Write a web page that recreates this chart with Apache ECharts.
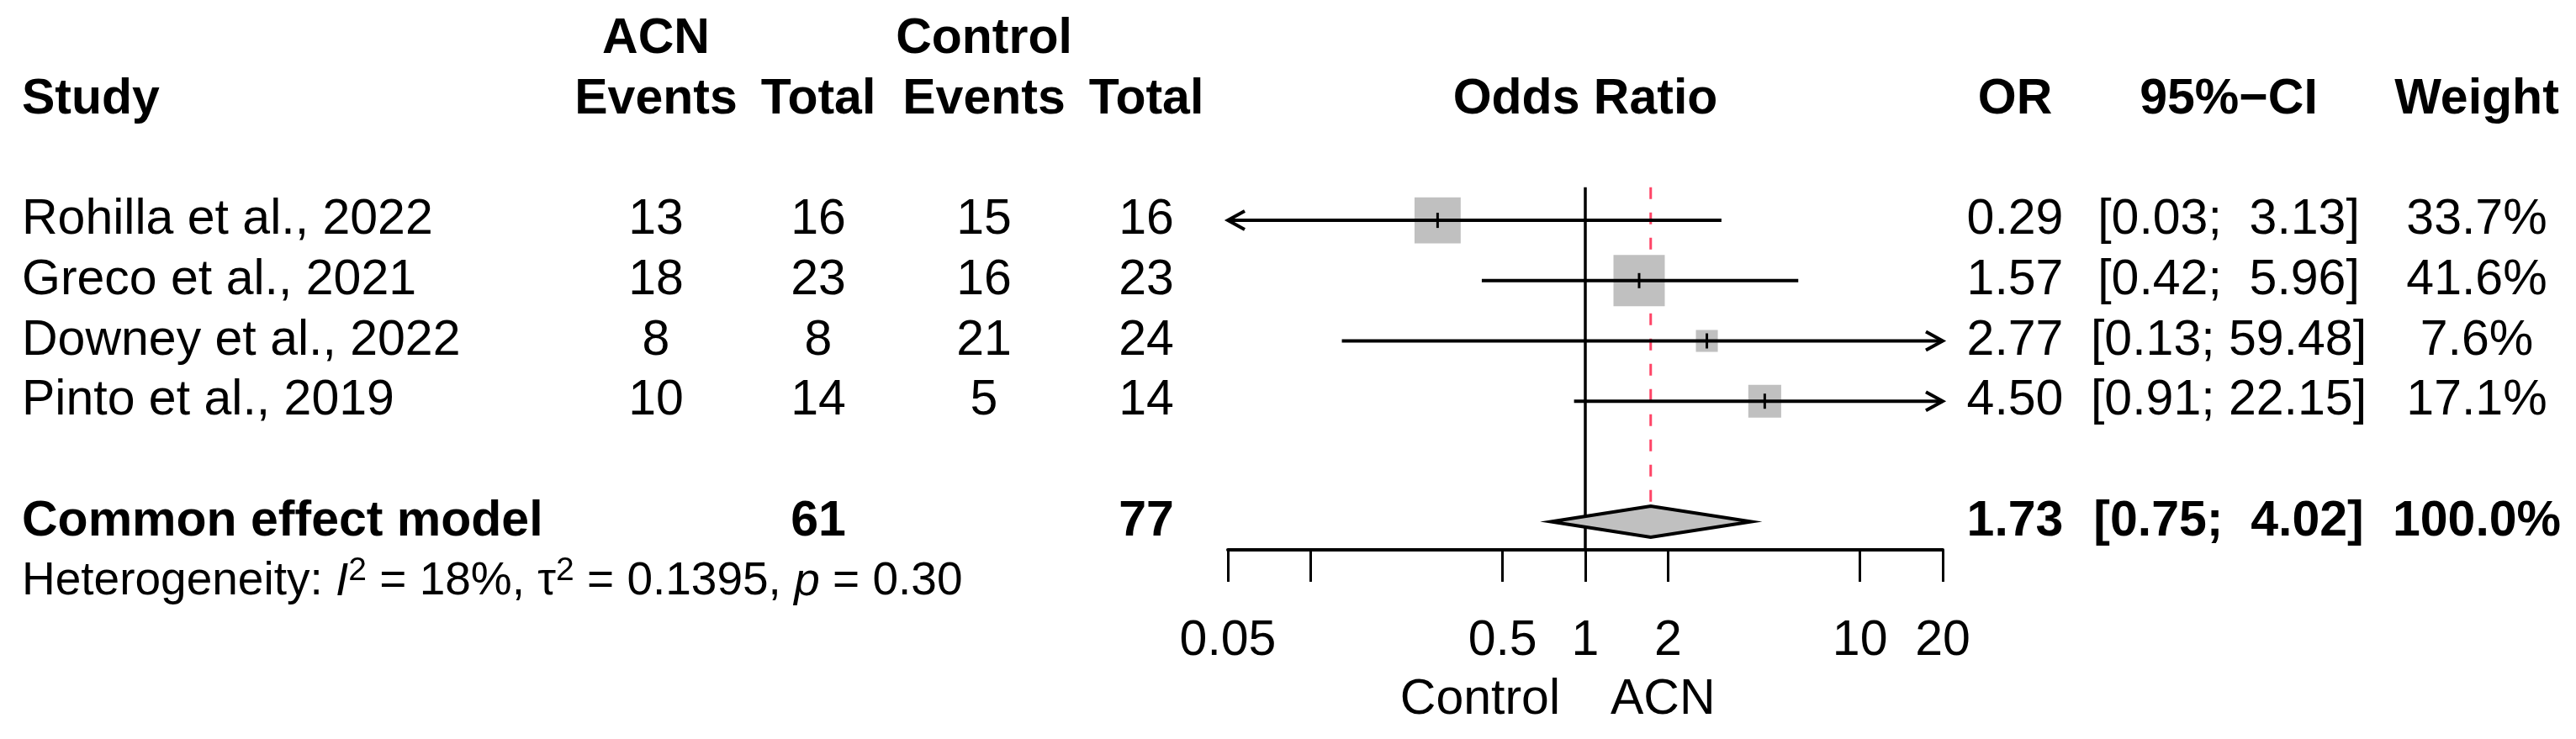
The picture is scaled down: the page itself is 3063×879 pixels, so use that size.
<!DOCTYPE html>
<html>
<head>
<meta charset="utf-8">
<script src="https://cdn.jsdelivr.net/npm/echarts@6/dist/echarts.min.js"></script>
<style>
html,body{margin:0;padding:0;background:#ffffff;}
#chart{width:3063px;height:879px;}
</style>
</head>
<body>
<div id="chart"></div>
<script>
// ---------------- data ----------------
const studies    = ['Rohilla et al., 2022', 'Greco et al., 2021', 'Downey et al., 2022', 'Pinto et al., 2019'];
const acnEvents  = [13, 18, 8, 10];
const acnTotal   = [16, 23, 8, 14];
const ctrlEvents = [15, 16, 21, 5];
const ctrlTotal  = [16, 23, 24, 14];
const oddsRatio  = [0.29, 1.57, 2.77, 4.50];
const ciLower    = [0.03, 0.42, 0.13, 0.91];
const ciUpper    = [3.13, 5.96, 59.48, 22.15];
const weights    = [33.7, 41.6, 7.6, 17.1];

const pooledLabel = 'Common effect model';
const pooledAcnTotal = 61;
const pooledCtrlTotal = 77;
const pooledOR = 1.73;
const pooledLower = 0.75;
const pooledUpper = 4.02;
const pooledWeight = 100.0;

const hetI2 = 18;
const hetTau2 = 0.1395;
const hetP = 0.30;

const axisTickValues  = [0.05, 0.1, 0.5, 1, 2, 10, 20];
const axisLabelValues = [0.05, 0.5, 1, 2, 10, 20];
const favoursLeft = 'Control';
const favoursRight = 'ACN';

// ---------------- layout ----------------
const FONT = '"Liberation Sans", Arial, Helvetica, sans-serif';
const FS = 59;
const FS_HET = 55;
const FS_SUP = 39;
const TOP = 47;
const ROW_H = 71.7;
const AXIS_Y = 654;
const Y_MAX = (AXIS_Y - TOP) / ROW_H;
const AXIS_MIN = 0.05, AXIS_MAX = 20;
const FOREST_LEFT = 1460, FOREST_WIDTH = 850;
const SQUARE_K = 61 / Math.sqrt(41.6);
const DIAMOND_HALF = 18.5;
const LINE_TOP_ROW = 2.45;

const COL = { study: 26, acnEv: 780, acnTot: 973, ctrlEv: 1170, ctrlTot: 1363, or: 2396, ci: 2650, w: 2945 };
const ROW = { head1: 0, head2: 1, first: 3, pooled: 8, het: 9, favours: 10.96 };

function f2(v) { return v.toFixed(2); }
function ciText(lo, hi) {
  const l = f2(lo), h = f2(hi);
  const pad = h.length < 5 ? '  ' : ' ';
  return '[' + l + ';' + pad + h + ']';
}

// text items for the table part (drawn on pixel x axis / row y axis)
const textItems = [];
function addText(x, row, text, align, bold) { textItems.push({ x, row, text, align, bold }); }

addText(COL.acnEv, ROW.head1, 'ACN', 'center', true);
addText(COL.ctrlEv, ROW.head1, 'Control', 'center', true);
addText(COL.study, ROW.head2, 'Study', 'left', true);
addText(COL.acnEv, ROW.head2, 'Events', 'center', true);
addText(COL.acnTot, ROW.head2, 'Total', 'center', true);
addText(COL.ctrlEv, ROW.head2, 'Events', 'center', true);
addText(COL.ctrlTot, ROW.head2, 'Total', 'center', true);
addText(COL.or, ROW.head2, 'OR', 'center', true);
addText(COL.ci, ROW.head2, '95%\u2212CI', 'center', true);
addText(COL.w, ROW.head2, 'Weight', 'center', true);

studies.forEach((s, i) => {
  const r = ROW.first + i;
  addText(COL.study, r, s, 'left', false);
  addText(COL.acnEv, r, String(acnEvents[i]), 'center', false);
  addText(COL.acnTot, r, String(acnTotal[i]), 'center', false);
  addText(COL.ctrlEv, r, String(ctrlEvents[i]), 'center', false);
  addText(COL.ctrlTot, r, String(ctrlTotal[i]), 'center', false);
  addText(COL.or, r, f2(oddsRatio[i]), 'center', false);
  addText(COL.ci, r, ciText(ciLower[i], ciUpper[i]), 'center', false);
  addText(COL.w, r, weights[i].toFixed(1) + '%', 'center', false);
});

addText(COL.study, ROW.pooled, pooledLabel, 'left', true);
addText(COL.acnTot, ROW.pooled, String(pooledAcnTotal), 'center', true);
addText(COL.ctrlTot, ROW.pooled, String(pooledCtrlTotal), 'center', true);
addText(COL.or, ROW.pooled, f2(pooledOR), 'center', true);
addText(COL.ci, ROW.pooled, ciText(pooledLower, pooledUpper), 'center', true);
addText(COL.w, ROW.pooled, pooledWeight.toFixed(1) + '%', 'center', true);

const hetText = '{n|Heterogeneity: }{i|I}{s|2}{n| = ' + hetI2 + '%, \u03c4}{s|2}{n| = ' + hetTau2.toFixed(4) +
  ', }{i|p}{n| = ' + hetP.toFixed(2) + '}';

// forest rows data
const studyData = studies.map((s, i) => [oddsRatio[i], ROW.first + i, ciLower[i], ciUpper[i], weights[i]]);

const chart = echarts.init(document.getElementById('chart'), null, { renderer: 'canvas' });

const option = {
  backgroundColor: '#ffffff',
  animation: false,
  grid: [
    { left: 0, width: 3063, top: TOP, height: AXIS_Y - TOP, containLabel: false },
    { left: FOREST_LEFT, width: FOREST_WIDTH, top: TOP, height: AXIS_Y - TOP, containLabel: false }
  ],
  xAxis: [
    { type: 'value', gridIndex: 0, min: 0, max: 3063, show: false },
    {
      type: 'log', logBase: 10, gridIndex: 1, min: AXIS_MIN, max: AXIS_MAX, position: 'bottom',
      axisLine: { show: true, onZero: false, lineStyle: { color: '#000', width: 4 } },
      axisTick: { show: true, customValues: axisTickValues, length: 38, inside: false, lineStyle: { color: '#000', width: 3 } },
      axisLabel: {
        show: true, customValues: axisLabelValues, margin: 79, fontSize: FS, fontFamily: FONT, color: '#000',
        formatter: v => String(v), hideOverlap: false, showMinLabel: true, showMaxLabel: true
      },
      splitLine: { show: false }, minorTick: { show: false }
    }
  ],
  yAxis: [
    { type: 'value', gridIndex: 0, min: 0, max: Y_MAX, inverse: true, show: false },
    { type: 'value', gridIndex: 1, min: 0, max: Y_MAX, inverse: true, show: false }
  ],
  series: [
    // reference lines (null effect and pooled estimate)
    {
      type: 'custom', xAxisIndex: 1, yAxisIndex: 1, clip: false, z: 1,
      data: [[1, LINE_TOP_ROW], [pooledOR, LINE_TOP_ROW]],
      encode: { x: 0, y: 1 },
      renderItem: function (params, api) {
        const x = api.value(0);
        const p1 = api.coord([x, LINE_TOP_ROW]);
        if (params.dataIndex === 0) {
          const p2 = api.coord([x, Y_MAX]);
          return { type: 'line', shape: { x1: p1[0], y1: p1[1], x2: p2[0], y2: p2[1] }, style: { stroke: '#000', lineWidth: 3.5 } };
        }
        const p2 = api.coord([x, ROW.pooled]);
        return { type: 'line', shape: { x1: p1[0], y1: p1[1], x2: p2[0], y2: p2[1] - DIAMOND_HALF },
          style: { stroke: '#ff4466', lineWidth: 3, lineDash: [14, 16] } };
      }
    },
    // study squares and CIs
    {
      type: 'custom', xAxisIndex: 1, yAxisIndex: 1, clip: false, z: 3,
      data: studyData,
      encode: { x: 0, y: 1 },
      renderItem: function (params, api) {
        const or = api.value(0), row = api.value(1), lo = api.value(2), hi = api.value(3), w = api.value(4);
        const c = api.coord([or, row]);
        const xl = api.coord([Math.max(lo, AXIS_MIN), row])[0];
        const xr = api.coord([Math.min(hi, AXIS_MAX), row])[0];
        const s = SQUARE_K * Math.sqrt(w);
        const ch = [
          { type: 'rect', shape: { x: c[0] - s / 2, y: c[1] - s / 2, width: s, height: s }, style: { fill: '#c0c0c0' } },
          { type: 'line', shape: { x1: xl, y1: c[1], x2: xr, y2: c[1] }, style: { stroke: '#000', lineWidth: 4 } },
          { type: 'line', shape: { x1: c[0], y1: c[1] - 9, x2: c[0], y2: c[1] + 9 }, style: { stroke: '#000', lineWidth: 3 } }
        ];
        if (lo < AXIS_MIN) {
          ch.push({ type: 'polyline', shape: { points: [[xl + 20, c[1] - 11], [xl, c[1]], [xl + 20, c[1] + 11]] },
            style: { stroke: '#000', lineWidth: 4, fill: null } });
        }
        if (hi > AXIS_MAX) {
          ch.push({ type: 'polyline', shape: { points: [[xr - 20, c[1] - 11], [xr, c[1]], [xr - 20, c[1] + 11]] },
            style: { stroke: '#000', lineWidth: 4, fill: null } });
        }
        return { type: 'group', children: ch };
      }
    },
    // pooled diamond
    {
      type: 'custom', xAxisIndex: 1, yAxisIndex: 1, clip: false, z: 3,
      data: [[pooledOR, ROW.pooled, pooledLower, pooledUpper]],
      encode: { x: 0, y: 1 },
      renderItem: function (params, api) {
        const row = api.value(1);
        const c = api.coord([api.value(0), row]);
        const l = api.coord([api.value(2), row]);
        const r = api.coord([api.value(3), row]);
        return { type: 'polygon', shape: { points: [[l[0], c[1]], [c[0], c[1] - DIAMOND_HALF], [r[0], c[1]], [c[0], c[1] + DIAMOND_HALF]] },
          style: { fill: '#c0c0c0', stroke: '#000', lineWidth: 4, lineJoin: 'miter' } };
      }
    },
    // texts tied to the OR axis: header and favours labels
    {
      type: 'custom', xAxisIndex: 1, yAxisIndex: 1, clip: false, z: 4,
      data: [[1, ROW.head2], [1, ROW.favours]],
      encode: { x: 0, y: 1 },
      renderItem: function (params, api) {
        const p = api.coord([api.value(0), api.value(1)]);
        if (params.dataIndex === 0) {
          return { type: 'text', x: p[0], y: p[1], style: { text: 'Odds Ratio', fontSize: FS, fontFamily: FONT, fontWeight: 'bold', fill: '#000', align: 'center', verticalAlign: 'middle' } };
        }
        return { type: 'group', children: [
          { type: 'text', x: p[0] - 30, y: p[1], style: { text: favoursLeft, fontSize: FS, fontFamily: FONT, fill: '#000', align: 'right', verticalAlign: 'middle' } },
          { type: 'text', x: p[0] + 30, y: p[1], style: { text: favoursRight, fontSize: FS, fontFamily: FONT, fill: '#000', align: 'left', verticalAlign: 'middle' } }
        ] };
      }
    },
    // table texts
    {
      type: 'custom', xAxisIndex: 0, yAxisIndex: 0, clip: false, z: 4,
      data: textItems.map(t => [t.x, t.row]),
      encode: { x: 0, y: 1 },
      renderItem: function (params, api) {
        const t = textItems[params.dataIndex];
        const p = api.coord([t.x, t.row]);
        return { type: 'text', x: p[0], y: p[1], style: { text: t.text, fontSize: FS, fontFamily: FONT,
          fontWeight: t.bold ? 'bold' : 'normal', fill: '#000', align: t.align, verticalAlign: 'middle' } };
      }
    },
    // heterogeneity statement
    {
      type: 'custom', xAxisIndex: 0, yAxisIndex: 0, clip: false, z: 4,
      data: [[COL.study, ROW.het]],
      encode: { x: 0, y: 1 },
      renderItem: function (params, api) {
        const p = api.coord([api.value(0), api.value(1)]);
        return { type: 'text', x: p[0], y: p[1], style: {
          text: hetText, fontFamily: FONT, fontSize: FS_HET, fill: '#000', align: 'left', verticalAlign: 'middle',
          rich: {
            n: { fontSize: FS_HET, fontFamily: FONT, lineHeight: 66, fill: '#000' },
            i: { fontSize: FS_HET, fontFamily: FONT, fontStyle: 'italic', lineHeight: 66, fill: '#000' },
            s: { fontSize: FS_SUP, fontFamily: FONT, lineHeight: 38, verticalAlign: 'top', fill: '#000' }
          }
        } };
      }
    }
  ]
};

chart.setOption(option);
</script>
</body>
</html>
